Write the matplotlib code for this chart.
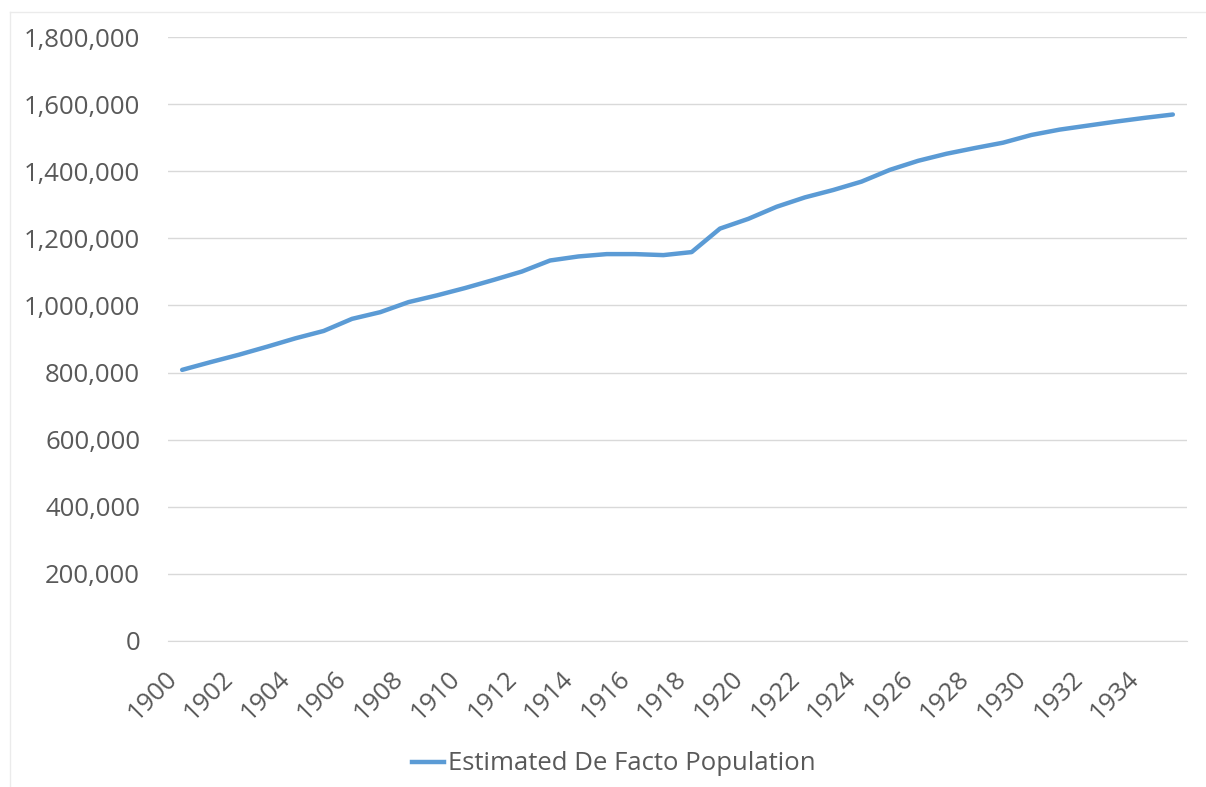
import matplotlib
matplotlib.use("Agg")
import matplotlib.pyplot as plt
from matplotlib.lines import Line2D
from matplotlib.ticker import FuncFormatter

years = list(range(1900, 1936))
population = [
    808000, 831000, 853000, 877000, 902000, 924000, 960000, 980000, 1010000, 1030000,
    1052000, 1076000, 1101000, 1134000, 1146000, 1153000, 1153000, 1150000, 1159000, 1229000,
    1258000, 1294000, 1322000, 1344000, 1369000, 1404000, 1431000, 1452000, 1469000, 1485000,
    1508000, 1524000, 1536000, 1548000, 1559000, 1569000,
]
series_name = "Estimated De Facto Population"

TEXT = "#595959"
LINE = "#5B9BD5"
GRID = "#D9D9D9"
FS = 18.5

plt.rcParams["font.family"] = ["Open Sans", "DejaVu Sans"]

W, H = 1206, 787
fig = plt.figure(figsize=(W / 100, H / 100), dpi=100)
ax = fig.add_axes([168 / W, 1 - 641 / H, (1187 - 168) / W, (641 - 37) / H])

# category axis: each year sits in the middle of its slot
xs = list(range(len(years)))
ax.plot(xs, population, color=LINE, lw=3.2, solid_capstyle="round", solid_joinstyle="round")

ax.set_xlim(-0.5, len(years) - 0.5)
ax.set_ylim(0, 1800000)
ax.set_yticks(range(0, 1800001, 200000))
ax.yaxis.set_major_formatter(FuncFormatter(lambda v, _: f"{int(v):,}"))
ax.set_xticks(xs[::2])
ax.set_xticklabels([str(y) for y in years[::2]], rotation=45, ha="right", rotation_mode="default")

ax.grid(axis="y", color=GRID, lw=1)
ax.set_axisbelow(True)
for side in ("top", "right", "left"):
    ax.spines[side].set_visible(False)
ax.spines["bottom"].set_color(GRID)
ax.tick_params(axis="both", length=0, labelsize=FS, labelcolor=TEXT)
ax.tick_params(axis="y", pad=20)
ax.tick_params(axis="x", pad=18)

handle = Line2D([], [], color=LINE, lw=3.2)
fig.legend([handle], [series_name], loc="center", bbox_to_anchor=(614 / W, 1 - 764 / H),
           frameon=False, fontsize=FS, labelcolor=TEXT, handlelength=1.25, handletextpad=0.15)

# faint chart-area border
fig.add_artist(Line2D([10 / W, 1], [1 - 12 / H, 1 - 12 / H], color="#EBEBEB", lw=1))
fig.add_artist(Line2D([10 / W, 10 / W], [1 - 12 / H, 0], color="#EBEBEB", lw=1))

fig.savefig("out.png", dpi=100)
